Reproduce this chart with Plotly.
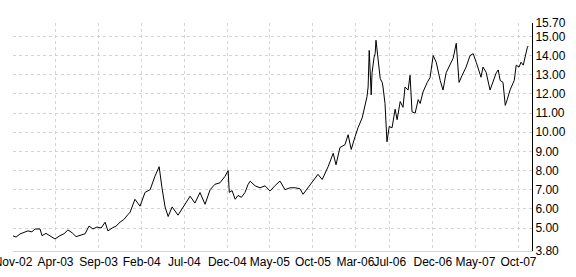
import plotly.graph_objects as go

dates = [
    "2002-11-01", "2002-11-12", "2002-11-26", "2002-12-10", "2002-12-24",
    "2003-01-07", "2003-01-18", "2003-02-05", "2003-02-12", "2003-02-26",
    "2003-03-12", "2003-03-30", "2003-04-17", "2003-05-01", "2003-05-15",
    "2003-05-30", "2003-06-13", "2003-06-27", "2003-07-15", "2003-07-29",
    "2003-08-12", "2003-08-26", "2003-09-10", "2003-09-24", "2003-10-04",
    "2003-10-19", "2003-11-02", "2003-11-16", "2003-11-30", "2003-12-14",
    "2003-12-22", "2004-01-08", "2004-01-26", "2004-02-13", "2004-03-02",
    "2004-03-19", "2004-04-03", "2004-04-13", "2004-04-24", "2004-05-05",
    "2004-05-19", "2004-06-09", "2004-06-27", "2004-07-22", "2004-08-08",
    "2004-08-26", "2004-09-13", "2004-10-01", "2004-10-18", "2004-11-05",
    "2004-11-23", "2004-12-04", "2004-12-08", "2004-12-18", "2004-12-29",
    "2005-01-08", "2005-01-20", "2005-02-02", "2005-02-13",
    "2005-02-20", "2005-03-10", "2005-03-27", "2005-04-14", "2005-05-02",
    "2005-05-20", "2005-06-06", "2005-06-24", "2005-07-12", "2005-07-30",
    "2005-08-16", "2005-08-27", "2005-09-14", "2005-10-02", "2005-10-19",
    "2005-11-03", "2005-11-24", "2005-12-12", "2005-12-22", "2006-01-05",
    "2006-01-23", "2006-02-03", "2006-02-14", "2006-02-28", "2006-03-10",
    "2006-03-25", "2006-04-04",
    "2006-04-11", "2006-04-15", "2006-04-19", "2006-04-26", "2006-04-29",
    "2006-05-06", "2006-05-10", "2006-05-13", "2006-05-20", "2006-05-28",
    "2006-06-04", "2006-06-07", "2006-06-14", "2006-06-18", "2006-06-21",
    "2006-06-29", "2006-07-09", "2006-07-20", "2006-07-27", "2006-08-07",
    "2006-08-17", "2006-08-24", "2006-09-04", "2006-09-11", "2006-09-18",
    "2006-09-29", "2006-10-10", "2006-10-17", "2006-10-27", "2006-11-11",
    "2006-11-21",
    "2006-12-02", "2006-12-13", "2006-12-27", "2007-01-06", "2007-01-17",
    "2007-01-31", "2007-02-11", "2007-02-22", "2007-02-25", "2007-03-04",
    "2007-03-15", "2007-03-29", "2007-04-12", "2007-04-23", "2007-05-04",
    "2007-05-11", "2007-05-21", "2007-05-28", "2007-06-08", "2007-06-22",
    "2007-07-03", "2007-07-14", "2007-07-21", "2007-07-28", "2007-08-07",
    "2007-08-15", "2007-08-22", "2007-09-01", "2007-09-16", "2007-09-23",
    "2007-10-03", "2007-10-10", "2007-10-18", "2007-10-25", "2007-11-01",
    "2007-11-04",
]

prices = [
    4.59, 4.53, 4.69, 4.75, 4.85,
    4.80, 4.95, 4.95, 4.60, 4.72,
    4.60, 4.43, 4.60, 4.70, 4.90,
    4.75, 4.55, 4.60, 4.70, 5.10,
    4.95, 5.05, 5.00, 5.30, 4.85,
    5.00, 5.10, 5.30, 5.45, 5.70,
    5.83, 6.50, 6.14, 6.86, 7.00,
    7.70, 8.20, 7.10, 6.10, 5.60,
    6.10, 5.67, 6.10, 6.66, 6.30,
    6.85, 6.24, 7.00, 7.28, 7.36,
    7.70, 8.00, 6.86, 6.95, 6.50,
    6.70, 6.60, 6.86, 7.28,
    7.44, 7.20, 7.10, 7.20, 6.93,
    7.22, 7.45, 7.00, 7.10, 7.10,
    7.05, 6.76, 7.10, 7.44, 7.80,
    7.53, 8.20, 8.90, 8.30, 9.20,
    9.35, 9.87, 9.10, 9.78, 10.23,
    10.75, 11.50,
    11.85, 12.36, 14.27, 11.95, 13.10,
    13.90, 14.10, 14.80, 13.75, 12.80,
    12.60, 12.36, 11.50, 10.30, 9.50,
    10.30, 10.23, 11.20, 10.65, 11.60,
    11.30, 12.36, 12.20, 12.97, 11.06,
    11.00, 11.70, 11.50, 12.10, 12.60,
    12.85,
    14.00, 13.65, 12.70, 12.20, 13.10,
    13.50, 13.86, 14.64, 14.10, 12.60,
    12.97, 13.40, 14.00, 14.10, 13.65,
    13.35, 12.87, 13.40, 13.13, 12.20,
    12.70, 13.10, 13.25, 12.70, 12.60,
    11.40, 11.70, 12.20, 12.70, 13.50,
    13.40, 13.65, 13.50, 14.00, 14.40,
    14.50,
]

x_ticks = ["2002-11-01", "2003-04-01", "2003-09-01", "2004-02-01", "2004-07-01",
           "2004-12-01", "2005-05-01", "2005-10-01", "2006-03-01", "2006-07-01",
           "2006-12-01", "2007-05-01", "2007-10-01"]
y_ticks = [3.80, 5.00, 6.00, 7.00, 8.00, 9.00, 10.00, 11.00, 12.00, 13.00,
           14.00, 15.00, 15.70]
x_range = ["2002-11-01", "2007-11-18"]

fig = go.Figure()
fig.add_trace(go.Scatter(x=dates, y=prices, mode="lines",
                         line=dict(color="#000000", width=1), hoverinfo="skip"))

fig.update_layout(
    width=576, height=277,
    margin=dict(l=13, r=44, t=23, b=26, autoexpand=False),
    paper_bgcolor="white", plot_bgcolor="white",
    showlegend=False,
    font=dict(family="Liberation Sans, Arial, sans-serif", size=12, color="#000000"),
)
fig.update_xaxes(
    type="date", range=x_range,
    tickvals=x_ticks, tickformat="%b-%y",
    ticklabeloverflow="allow", automargin=False,
    showgrid=True, gridcolor="#d4d4d4", griddash="dot", gridwidth=1,
    ticks="", showline=True, linecolor="#d4d4d4", linewidth=1,
    zeroline=False, tickangle=0,
)
fig.update_yaxes(
    range=[3.8, 15.7], side="right", automargin=False,
    tickvals=y_ticks, ticktext=[f"{v:.2f}" for v in y_ticks],
    showgrid=True, gridcolor="#d4d4d4", griddash="dot", gridwidth=1,
    ticks="", showline=True, linecolor="#000000", linewidth=1,
    zeroline=False,
)

fig.write_html("out.html")
